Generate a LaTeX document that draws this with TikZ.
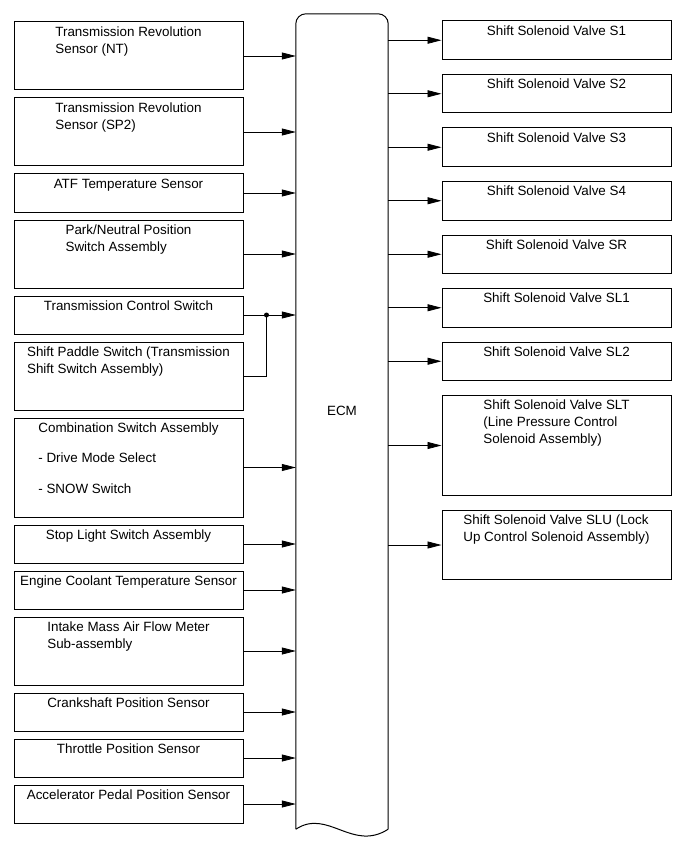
\documentclass[tikz,border=0pt]{standalone}
\usepackage{fontspec}
\setmainfont{Liberation Sans}
\usetikzlibrary{arrows.meta,calc,positioning}
\tikzset{pin/.style={-{Triangle[length=14pt,width=7pt]}, line width=0.8pt},
  unit/.style={draw, line width=1pt, minimum width=229pt, minimum height=#1, inner sep=0pt},
  txt/.style={anchor=north, align=left, inner xsep=0pt, inner ysep=5pt}}

\begin{document}
\begin{tikzpicture}[x=1pt, y=-1pt, font=\fontsize{13.4}{17}\selectfont]
  \useasboundingbox (0,0) rectangle (689,853);
  % ECM block
  \node[minimum width=92pt, minimum height=815pt, inner sep=0pt] (ecm) at (342,421.5) {};
  \draw[line width=1pt, rounded corners=10pt] (ecm.south west) -- (ecm.north west) -- (ecm.north east) -- (ecm.south east);
  \draw[line width=1pt] (ecm.south west) .. controls ($(ecm.south west)+(32,-21)$) and ($(ecm.south east)+(-36,23)$) .. (ecm.south east);
  \node (ecmlbl) at ($(ecm.center)+(0,-11)$) {ECM};
  % inputs
  \node[unit=68pt, label={[txt]north:{Transmission Revolution\\Sensor (NT)}}] (tnt) at (128.5,56) {};
  \node[unit=68pt, below=7pt of tnt, label={[txt]north:{Transmission Revolution\\Sensor (SP2)}}] (tsp) {};
  \node[unit=38pt, below=7pt of tsp, label={[txt]north:{ATF Temperature Sensor}}] (atf) {};
  \node[unit=68pt, below=7pt of atf, label={[txt]north:{Park/Neutral Position\\Switch Assembly}}] (pnp) {};
  \node[unit=38pt, below=7pt of pnp, label={[txt]north:{Transmission Control Switch}}] (tcs) {};
  \node[unit=68pt, below=7pt of tcs, label={[txt]north:{Shift Paddle Switch (Transmission\\Shift Switch Assembly)}}] (spd) {};
  \node[unit=99pt, below=7pt of spd, label={[txt]north:{Combination Switch Assembly\\[13.5pt]- Drive Mode Select\\[13.5pt]- SNOW Switch}}] (cmb) {};
  \node[unit=38pt, below=7pt of cmb, label={[txt]north:{Stop Light Switch Assembly}}] (stp) {};
  \node[unit=38pt, below=7pt of stp, label={[txt]north:{Engine Coolant Temperature Sensor}}] (ect) {};
  \node[unit=68pt, below=7pt of ect, label={[txt]north:{Intake Mass Air Flow Meter\\Sub-assembly}}] (maf) {};
  \node[unit=38pt, below=7pt of maf, label={[txt]north:{Crankshaft Position Sensor}}] (ckp) {};
  \node[unit=38pt, below=7pt of ckp, label={[txt]north:{Throttle Position Sensor}}] (tps) {};
  \node[unit=38pt, below=7pt of tps, label={[txt]north:{Accelerator Pedal Position Sensor}}] (acc) {};
  \foreach \s in {tnt,tsp,atf,pnp,tcs,cmb,stp,ect,maf,ckp,tps,acc}{\draw[pin] (\s.east) -- (\s.east -| ecm.west);}
  % paddle switch joins the control switch line
  \coordinate (jn) at ($(tcs.east)+(23,0)$);
  \draw[line width=0.8pt] (spd.east) -| (jn);
  \fill (jn) circle (2.5pt);
  % outputs
  \node[unit=38.5pt, label={[txt]north:{Shift Solenoid Valve S1}}] (s1) at (556.5,40.25) {};
  \node[unit=38.5pt, below=14pt of s1, label={[txt]north:{Shift Solenoid Valve S2}}] (s2) {};
  \node[unit=38.5pt, below=14pt of s2, label={[txt]north:{Shift Solenoid Valve S3}}] (s3) {};
  \node[unit=38.5pt, below=14pt of s3, label={[txt]north:{Shift Solenoid Valve S4}}] (s4) {};
  \node[unit=38.5pt, below=14pt of s4, label={[txt]north:{Shift Solenoid Valve SR}}] (sr) {};
  \node[unit=38.5pt, below=14pt of sr, label={[txt]north:{Shift Solenoid Valve SL1}}] (sl1) {};
  \node[unit=38.5pt, below=14pt of sl1, label={[txt]north:{Shift Solenoid Valve SL2}}] (sl2) {};
  \node[unit=100pt, below=14pt of sl2, label={[txt]north:{Shift Solenoid Valve SLT\\(Line Pressure Control\\Solenoid Assembly)}}] (slt) {};
  \node[unit=69pt, below=14pt of slt, label={[txt]north:{Shift Solenoid Valve SLU (Lock\\Up Control Solenoid Assembly)}}] (slu) {};
  \foreach \v in {s1,s2,s3,s4,sr,sl1,sl2,slt,slu}{\draw[pin] (\v.west -| ecm.east) -- (\v.west);}
\end{tikzpicture}
\end{document}
